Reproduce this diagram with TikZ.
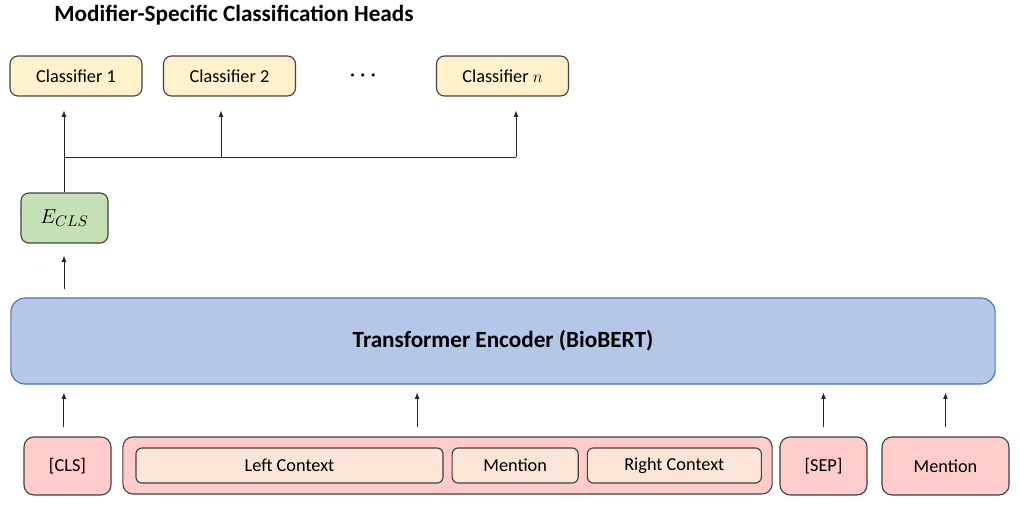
\documentclass[tikz,border=0pt]{standalone}
\usepackage{fontspec}
\setmainfont{Carlito}
\usepackage{xcolor}
\usepackage{tikz}
\usetikzlibrary{positioning, calc, arrows.meta}
\definecolor{HeadColor}{HTML}{FFF2CC}
\definecolor{EmbColor}{HTML}{C5E0B4}
\definecolor{EncColor}{HTML}{B4C7E7}
\definecolor{EncLine}{HTML}{4472C4}
\definecolor{TokColor}{HTML}{FFCCCC}
\definecolor{PartColor}{HTML}{FBE5D6}
\definecolor{EdgeGray}{HTML}{404040}
\tikzset{
    block/.style={
        rectangle,
        rounded corners=2mm,
        align=center,
        inner sep=0pt,
        draw=EdgeGray,
        line width=0.8pt,
        font=\fontsize{13}{15}\selectfont
    },
    headbox/.style={block, fill=HeadColor, minimum width=3.3cm, minimum height=1.0cm},
    embbox/.style={block, fill=EmbColor, minimum width=2.175cm, minimum height=1.25cm, font=\fontsize{15.5}{18}\selectfont},
    encbox/.style={block, fill=EncColor, draw=EncLine, rounded corners=3.5mm, font=\fontsize{16.5}{19}\selectfont\bfseries},
    tokbox/.style={block, fill=TokColor, rounded corners=2.5mm, minimum height=1.45cm},
    partbox/.style={block, fill=PartColor, rounded corners=1.5mm, minimum height=0.875cm},
    arr/.style={-{Latex[length=4.5pt, width=3.5pt]}, line width=0.6pt, draw=black!85},
    bus/.style={line width=0.6pt, draw=black!85}
}

\begin{document}
\begin{tikzpicture}[x=0.025cm, y=-0.025cm]
\useasboundingbox (0,0) rectangle (1020,510);

% Title
\node[font=\fontsize{16.5}{19}\selectfont\bfseries] (title) at (234, 15) {Modifier-Specific Classification Heads};

% Heads
\node[headbox] (cls1) at (76, 76) {Classifier 1};
\node[headbox] (cls2) at (229.5, 76) {Classifier 2};
\node[headbox] (clsn) at (502.5, 76) {Classifier $n$};
\node[font=\fontsize{15}{17}\selectfont\boldmath] (dots) at (363, 76) {$\cdots$};

% CLS embedding
\node[embbox] (ecls) at (64.5, 218) {$E_{CLS}$};

% Encoder
\node[encbox, minimum width=24.6cm, minimum height=2.15cm] (enc) at (503, 341) {Transformer Encoder (BioBERT)};

% Input tokens
\node[tokbox, minimum width=2.175cm] (tcls) at (67.5, 466) {[CLS]};
\node[tokbox, minimum width=16.225cm, minimum height=1.425cm] (seq) at (447.5, 465.5) {};
\node[partbox, minimum width=7.675cm] (left) at (289.5, 465.5) {Left Context};
\node[partbox, minimum width=3.15cm, right=0.2cm of left] (mid) {Mention};
\node[partbox, minimum width=4.35cm, right=0.2cm of mid] (right) {Right Context};
\node[tokbox, minimum width=2.175cm] (sep) at (823.5, 466) {[SEP]};
\node[tokbox, minimum width=3.175cm] (ment) at (945.5, 466) {Mention};

% Bus to heads
\coordinate (b1) at (64, 157);
\coordinate (b2) at (221, 157);
\coordinate (bn) at (516, 157);
\draw[arr, shorten >=0.35cm] (ecls.north -| b1) -- (cls1.south -| b1);
\draw[bus] (b1) -- (bn);
\draw[arr, shorten >=0.35cm] (b2) -- (b2 |- cls2.south);
\draw[arr, shorten >=0.35cm] (bn) -- (bn |- clsn.south);

% Encoder to embedding
\draw[arr, shorten <=0.2cm, shorten >=0.3cm] (enc.north -| b1) -- (ecls.south -| b1);

% Tokens to encoder
\draw[arr, shorten <=0.225cm, shorten >=0.2cm] ([xshift=-0.09cm]tcls.north) -- ([xshift=-0.09cm]tcls.north |- enc.south);
\draw[arr, shorten <=0.225cm, shorten >=0.2cm] ([xshift=-0.76cm]seq.north) -- ([xshift=-0.76cm]seq.north |- enc.south);
\draw[arr, shorten <=0.225cm, shorten >=0.2cm] (sep.north) -- (sep.north |- enc.south);
\draw[arr, shorten <=0.225cm, shorten >=0.2cm] (ment.north) -- (ment.north |- enc.south);

\end{tikzpicture}
\end{document}
